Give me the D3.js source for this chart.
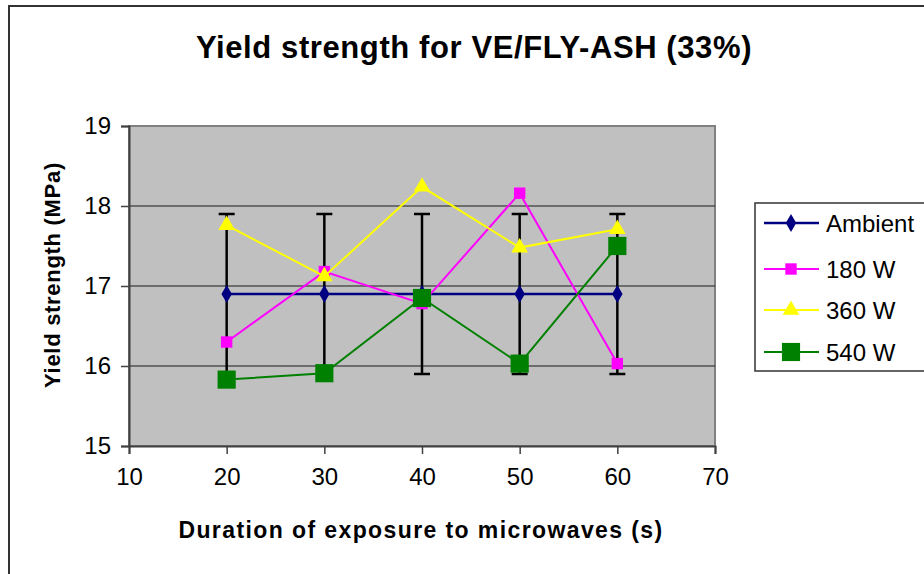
<!DOCTYPE html>
<html><head><meta charset="utf-8">
<script src="https://cdn.jsdelivr.net/npm/d3@7"></script>
<style>body{margin:0;background:#fff;}svg{display:block;font-family:"Liberation Sans",Arial,sans-serif;}</style>
</head><body>
<script>
const durations = [20, 30, 40, 50, 60];
const ambient = [16.9, 16.9, 16.9, 16.9, 16.9];
const ambientErr = [1.0, 1.0, 1.0, 1.0, 1.0];
const w180 = [16.3, 17.18, 16.78, 18.16, 16.03];
const w360 = [17.76, 17.12, 18.24, 17.48, 17.71];
const w540 = [15.83, 15.91, 16.85, 16.03, 17.5];
const xTicks = [10, 20, 30, 40, 50, 60, 70];
const yTicks = [15, 16, 17, 18, 19];
const seriesNames = ["Ambient", "180 W", "360 W", "540 W"];

const W = 924, H = 574;
const svg = d3.select("body").append("svg").attr("width", W).attr("height", H);

// outer chart border
svg.append("rect").attr("x", 9).attr("y", 6).attr("width", W + 10).attr("height", H + 10)
  .attr("fill", "#fff").attr("stroke", "#333").attr("stroke-width", 2);

const L = 129, R = 715, T = 126, B = 446;
const x = d3.scaleLinear().domain([10, 70]).range([L, R]);
const y = d3.scaleLinear().domain([15, 19]).range([B, T]);

// plot background
svg.append("rect").attr("x", L).attr("y", T).attr("width", R - L).attr("height", B - T)
  .attr("fill", "#c0c0c0").attr("stroke", "#808080").attr("stroke-width", 2);

// gridlines
svg.append("g").selectAll("line").data(yTicks.filter(d => d > 15 && d < 19)).join("line")
  .attr("x1", L).attr("x2", R).attr("y1", d => y(d)).attr("y2", d => y(d))
  .attr("stroke", "#1a1a1a").attr("stroke-width", 1.2);

// axes
const yAxis = svg.append("g").attr("transform", `translate(${L},0)`)
  .call(d3.axisLeft(y).tickValues(yTicks).tickSize(8).tickPadding(10).tickFormat(d3.format("d")));
const xAxis = svg.append("g").attr("transform", `translate(0,${B})`)
  .call(d3.axisBottom(x).tickValues(xTicks).tickSize(8).tickPadding(14).tickFormat(d3.format("d")));
[yAxis, xAxis].forEach(g => {
  g.select(".domain").attr("stroke", "#404040").attr("stroke-width", 2);
  g.selectAll(".tick line").attr("stroke", "#404040").attr("stroke-width", 1.5);
  g.selectAll(".tick text").attr("font-size", 24).attr("fill", "#000")
    .attr("font-family", "Liberation Sans, Arial, sans-serif");
});

// error bars for Ambient
const eb = svg.append("g").attr("stroke", "#000").attr("stroke-width", 2.5);
durations.forEach((d, i) => {
  const cx = x(d), y1 = y(ambient[i] + ambientErr[i]), y2 = y(ambient[i] - ambientErr[i]);
  eb.append("line").attr("x1", cx).attr("x2", cx).attr("y1", y1).attr("y2", y2);
  eb.append("line").attr("x1", cx - 8).attr("x2", cx + 8).attr("y1", y1).attr("y2", y1);
  eb.append("line").attr("x1", cx - 8).attr("x2", cx + 8).attr("y1", y2).attr("y2", y2);
});

const series = [
  {name: seriesNames[0], vals: ambient, color: "#000080", sym: d3.symbolDiamond, size: 95, sw: 2.5},
  {name: seriesNames[1], vals: w180, color: "#ff00ff", sym: d3.symbolSquare, size: 130, sw: 2},
  {name: seriesNames[2], vals: w360, color: "#ffff00", sym: d3.symbolTriangle, size: 120, sw: 2},
  {name: seriesNames[3], vals: w540, color: "#008000", sym: d3.symbolSquare, size: 330, sw: 2}
];

const line = d3.line().x(d => x(d[0])).y(d => y(d[1]));
series.forEach(s => {
  const pts = durations.map((d, i) => [d, s.vals[i]]);
  svg.append("path").datum(pts).attr("d", line).attr("fill", "none")
    .attr("stroke", s.color).attr("stroke-width", s.sw);
  svg.append("g").selectAll("path").data(pts).join("path")
    .attr("d", d3.symbol().type(s.sym).size(s.size))
    .attr("transform", d => `translate(${x(d[0])},${y(d[1])})`)
    .attr("fill", s.color);
});

// legend
const lg = svg.append("g");
lg.append("rect").attr("x", 755).attr("y", 203).attr("width", 200).attr("height", 168)
  .attr("fill", "#fff").attr("stroke", "#333").attr("stroke-width", 1.5);
const legY = [223, 269, 310, 352];
series.forEach((s, i) => {
  const ly = legY[i];
  lg.append("line").attr("x1", 764).attr("x2", 819).attr("y1", ly).attr("y2", ly)
    .attr("stroke", s.color).attr("stroke-width", s.sw);
  lg.append("path").attr("d", d3.symbol().type(s.sym).size(s.size))
    .attr("transform", `translate(791,${ly})`).attr("fill", s.color);
  lg.append("text").attr("x", 826).attr("y", ly).attr("dy", "0.36em")
    .attr("font-size", 24).text(s.name);
});

// titles
svg.append("text").attr("x", 474).attr("y", 58).attr("text-anchor", "middle")
  .attr("font-size", 31).attr("font-weight", "bold").attr("letter-spacing", 0.6)
  .text("Yield strength for VE/FLY-ASH (33%)");
svg.append("text").attr("x", 421).attr("y", 538).attr("text-anchor", "middle")
  .attr("font-size", 23).attr("font-weight", "bold").attr("letter-spacing", 1.4)
  .text("Duration of exposure to microwaves (s)");
svg.append("text").attr("transform", "translate(60,275) rotate(-90)").attr("text-anchor", "middle")
  .attr("font-size", 22).attr("font-weight", "bold").attr("letter-spacing", 0.7)
  .text("Yield strength (MPa)");
</script>
</body></html>
